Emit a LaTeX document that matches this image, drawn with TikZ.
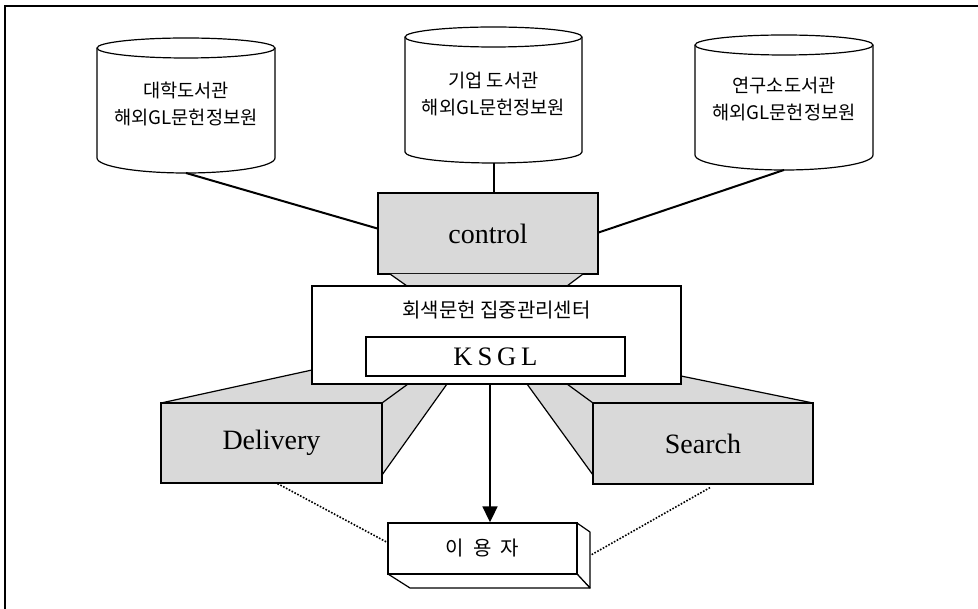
\documentclass[tikz,border=0pt]{standalone}
\usepackage{fontspec}
\setmainfont{Liberation Serif}
\newfontfamily\kr{Noto Sans CJK KR}
\usetikzlibrary{arrows.meta,calc}
\definecolor{dotgray}{gray}{0.85}
\tikzset{
  outline/.style={draw=black, line width=0.9pt},
  graybox/.style={outline, fill=dotgray, inner sep=0pt},
  whitebox/.style={outline, fill=white, inner sep=0pt},
  cyltext/.style={font=\kr\fontsize{14}{20}\selectfont, align=center},
  bigtext/.style={font=\fontsize{21}{24}\selectfont},
  link/.style={draw=black, line width=1.5pt},
  dotlink/.style={draw=black, line width=1.2pt, dash pattern=on 1.2pt off 1.2pt},
  edge/.style={draw=black, line width=0.9pt, line join=round},
}
\begin{document}
\begin{tikzpicture}[x=0.75pt,y=-0.75pt]
\useasboundingbox (0,0) rectangle (978,609);
% frame
\draw[line width=2.2pt] (5,609) -- (5,6) -- (978,6);

% cylinders
\foreach \cx/\rx/\ty/\by/\bry/\nm in {186/89/48/158/15/cA, 493.5/88.5/37/152/11/cB, 784/89/45/155/15/cC}{
  \draw[outline, fill=white] (\cx-\rx,\ty) -- (\cx-\rx,\by)
     arc[start angle=180, end angle=0, x radius=\rx, y radius=\bry]
     -- (\cx+\rx,\ty)
     arc[start angle=360, end angle=180, x radius=\rx, y radius=10] -- cycle;
  \draw[outline] (\cx-\rx,\ty) arc[start angle=180, end angle=0, x radius=\rx, y radius=10];
  \coordinate (\nm) at (\cx,\by+\bry);
}
\node[cyltext] (tA) at (186,104) {대학도서관\\해외GL문헌정보원};
\node[cyltext] (tB) at (493.5,94) {기업 도서관\\해외GL문헌정보원};
\node[cyltext] (tC) at (784,99) {연구소도서관\\해외GL문헌정보원};

% control box
\node[graybox, minimum width=165pt, minimum height=60.75pt, bigtext] (ctrl) at (488,233.5) {control};

% links from cylinders to control
\draw[link] (cA) -- ($(ctrl.west)+(0,-5)$);
\draw[link] (cB) -- (cB |- ctrl.north);
\draw[link] (cC) -- ($(ctrl.east)+(0,-1)$);

% trapezoid under control
\coordinate (tz1) at (390,274); \coordinate (tz2) at (583,274);
\coordinate (tz3) at (567,286); \coordinate (tz4) at (407,286);
\draw[edge, fill=dotgray] (tz1) -- (tz4) -- (tz3) -- (tz2);

% Delivery extrusion
\coordinate (d1) at (161,403); \coordinate (d2) at (312,370);
\coordinate (d3) at (312,384); \coordinate (d4) at (447,384);
\coordinate (d5) at (382,475); \coordinate (d6) at (382,403);
\coordinate (d7) at (408,384);
\fill[dotgray] (d1) -- (d2) -- (d3) -- (d4) -- (d5) -- (d6) -- cycle;
\draw[edge] (d1) -- (d2);
\draw[edge] (d6) -- (d7);
\draw[edge] (d5) -- (d4);

% Search extrusion
\coordinate (s1) at (813,403); \coordinate (s2) at (681,376);
\coordinate (s3) at (681,384); \coordinate (s4) at (527,384);
\coordinate (s5) at (593,475); \coordinate (s6) at (593,403);
\coordinate (s7) at (567,384);
\fill[dotgray] (s1) -- (s2) -- (s3) -- (s4) -- (s5) -- (s6) -- cycle;
\draw[edge] (s1) -- (s2);
\draw[edge] (s6) -- (s7);
\draw[edge] (s5) -- (s4);

% center box
\node[whitebox, minimum width=276.75pt, minimum height=73.5pt] (ctr) at (496.5,335) {};
\node[font=\kr\fontsize{15}{17}\selectfont] (ctrtext) at (496.5,310) {회색문헌 집중관리센터};
\node[whitebox, minimum width=194.25pt, minimum height=29.25pt,
      font=\fontsize{20}{22}\selectfont] (ksgl) at (495.5,356.5) {K\hspace{0.18em}S\hspace{0.18em}G\hspace{0.18em}L};

% Delivery and Search front faces
\node[graybox, minimum width=165.75pt, minimum height=60pt, bigtext] (del) at (271.5,443) {Delivery};
\node[graybox, minimum width=165pt, minimum height=60.75pt, bigtext] (srch) at (703,443.5) {Search};

% user box (3D)
\coordinate (u1) at (577,523); \coordinate (u2) at (590,532);
\coordinate (u3) at (590,588); \coordinate (u4) at (577,574);
\coordinate (u5) at (388,574); \coordinate (u6) at (410,588);
\draw[edge, fill=white] (u1) -- (u2) -- (u3) -- (u4) -- cycle;
\draw[edge, fill=white] (u5) -- (u6) -- (u3) -- (u4) -- cycle;
\node[whitebox, minimum width=141.75pt, minimum height=38.25pt,
      font=\kr\fontsize{15}{17}\selectfont] (user) at (482.5,548.5) {이\hspace{0.45em}용\hspace{0.45em}자};
\coordinate (uR) at (591,555);

% arrow
\draw[line width=2pt, -{Triangle[length=12pt,width=11pt]}] (ctr.south -| 490,0) -- (user.north -| 490,0);

% dotted links
\draw[dotlink] ($(del.south)+(6,0)$) -- ($(user.west)+(0,-6)$);
\draw[dotlink] ($(srch.south)+(7,3)$) -- (uR);
\end{tikzpicture}
\end{document}
